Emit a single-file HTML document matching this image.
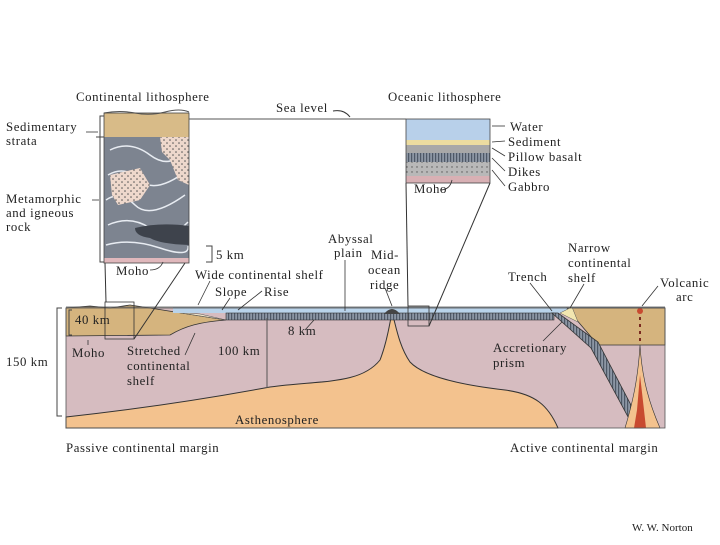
<!DOCTYPE html>
<html><head><meta charset="utf-8"><style>
body{margin:0;background:#fff}
svg text{font-family:"Liberation Serif",serif;font-size:12.8px;fill:#222;letter-spacing:0.6px}
</style></head><body>
<svg width="720" height="540" viewBox="0 0 720 540" xmlns="http://www.w3.org/2000/svg">
<defs>
<pattern id="stripe" width="3" height="8" patternUnits="userSpaceOnUse"><rect width="3" height="8" fill="#8c96a4"/><rect width="1.2" height="8" fill="#4e5866"/></pattern>
<pattern id="dots" width="6" height="6" patternUnits="userSpaceOnUse"><rect width="6" height="6" fill="#eed8cc"/><circle cx="2" cy="2" r="0.8" fill="#555"/><circle cx="5" cy="5" r="0.8" fill="#555"/></pattern>
<pattern id="gdots" width="5" height="5" patternUnits="userSpaceOnUse"><rect width="5" height="5" fill="#b8b8b8"/><circle cx="2" cy="2" r="0.7" fill="#555"/></pattern>
</defs>
<rect x="66" y="308" width="599" height="120" fill="#d6bcc0"/>
<path d="M66 417 C130 410 200 400 270 387 C320 380 360 385 380 360 C388 340 390 320 392 313 C395 320 398 345 410 362 C425 378 470 386 505 390 C535 394 548 405 558 428 L66 428Z" fill="#f3c28e" stroke="#333" stroke-width="1"/>
<path d="M66 308 L90 306 L110 308 L130 305 L150 308 L175 312 L226 320 C200 322 185 326 170 335 L66 336Z" fill="#d5b47e" stroke="#333" stroke-width="0.8"/>
<path d="M175 312 L226 320 L200 314Z" fill="#f2e6cc" stroke="#555" stroke-width="0.5"/>
<rect x="173" y="307" width="492" height="6" fill="#b9d3ea"/>
<line x1="66" y1="307" x2="665" y2="307" stroke="#555" stroke-width="0.8"/>
<rect x="226" y="313" width="328" height="7" fill="url(#stripe)" stroke="#333" stroke-width="0.6"/>
<path d="M384 314 Q392 304 400 314Z" fill="#444"/>
<path d="M567 308 L665 308 L665 345 L598 345 L575 318Z" fill="#d5b47e" stroke="#333" stroke-width="0.8"/>
<path d="M560 313 L572 307 L578 322Z" fill="#f2e6b0" stroke="#555" stroke-width="0.5"/>
<path d="M552 313 L558 313 L598 342 L643 428 L634 428 L591 348 Z" fill="url(#stripe)" stroke="#333" stroke-width="0.8"/>
<path d="M640 345 C642 380 650 405 660 428 L625 428 C632 405 638 380 640 345Z" fill="#f3c28e" stroke="#333" stroke-width="0.6"/>
<path d="M640 375 L644 410 L646 428 L634 428 L637 410Z" fill="#c84a30"/>
<line x1="640" y1="310" x2="640" y2="345" stroke="#7a2a20" stroke-width="2" stroke-dasharray="3 4"/>
<circle cx="640" cy="311" r="3" fill="#c84a30"/>
<rect x="66" y="308" width="599" height="120" fill="none" stroke="#555" stroke-width="0.8"/>
<rect x="105" y="302" width="29" height="37" fill="none" stroke="#333" stroke-width="0.8"/>
<rect x="408" y="306" width="21" height="20" fill="none" stroke="#333" stroke-width="0.8"/>
<line x1="105" y1="263" x2="106" y2="302" stroke="#333"/>
<line x1="185" y1="263" x2="134" y2="339" stroke="#333"/>
<line x1="406" y1="183" x2="408" y2="306" stroke="#333"/>
<line x1="490" y1="183" x2="429" y2="326" stroke="#333"/>
<line x1="267" y1="318" x2="267" y2="388" stroke="#555"/>
<rect x="104" y="113" width="85" height="24" fill="#d8bb88"/>
<rect x="104" y="137" width="85" height="121" fill="#7d8490"/>
<path d="M110 150 Q130 140 150 155 T185 150 M108 175 Q125 165 140 180 T188 170 M106 200 Q120 190 135 205 T185 195 M108 225 Q130 215 150 228 T188 222 M106 245 Q130 238 160 248 T188 246" stroke="#e8ecf2" stroke-width="1.5" fill="none"/>
<path d="M110 175 L140 168 L150 185 L140 200 L118 205 L112 195Z" fill="url(#dots)"/>
<path d="M160 137 L189 137 L189 185 L178 180 L170 160 L162 152Z" fill="url(#dots)"/>
<path d="M135 228 Q160 222 189 226 L189 245 Q160 244 150 238 Q135 236 135 228Z" fill="#3e434c"/>
<rect x="104" y="258" width="85" height="5" fill="#e0b8bc"/>
<path d="M104 113 Q120 110 135 113 T165 112 T189 112" fill="none" stroke="#555"/>
<rect x="104" y="113" width="85" height="150" fill="none" stroke="#444" stroke-width="0.8"/>
<rect x="406" y="119" width="84" height="21" fill="#b8d0ea"/>
<rect x="406" y="140" width="84" height="5" fill="#ecdca0"/>
<rect x="406" y="145" width="84" height="8" fill="#a8a8a8"/>
<rect x="406" y="153" width="84" height="9" fill="url(#stripe)"/>
<rect x="406" y="162" width="84" height="14" fill="url(#gdots)"/>
<rect x="406" y="176" width="84" height="7" fill="#d8b0b4"/>
<rect x="406" y="119" width="84" height="64" fill="none" stroke="#444" stroke-width="0.8"/>
<line x1="189" y1="119" x2="406" y2="119" stroke="#555"/>
<path d="M333 111 Q344 109 350 117" fill="none" stroke="#333"/>
<path d="M104 116 L100 116 L100 262 L104 262 M96 137 L104 137" fill="none" stroke="#444"/>
<path d="M206 246 L212 246 L212 262 L206 262" fill="none" stroke="#444"/>
<path d="M62 308 L57 308 L57 416 L62 416" fill="none" stroke="#444"/>
<path d="M72 310 L69 310 L69 335 L72 335" fill="none" stroke="#444"/>
<g stroke="#333" fill="none" stroke-width="0.8">
<line x1="86" y1="132" x2="98" y2="132"/>
<line x1="92" y1="200" x2="99" y2="200"/>
<path d="M150 270 Q160 270 163 262"/>
<line x1="210" y1="281" x2="198" y2="305"/>
<line x1="230" y1="298" x2="222" y2="310"/>
<line x1="262" y1="291" x2="238" y2="310"/>
<line x1="345" y1="260" x2="345" y2="311"/>
<line x1="385" y1="288" x2="392" y2="306"/>
<path d="M440 190 Q450 190 452 180"/>
<line x1="492" y1="126" x2="505" y2="126"/>
<line x1="492" y1="142" x2="505" y2="141"/>
<line x1="492" y1="148" x2="505" y2="156"/>
<line x1="492" y1="158" x2="505" y2="171"/>
<line x1="492" y1="170" x2="505" y2="186"/>
<line x1="530" y1="283" x2="552" y2="311"/>
<line x1="584" y1="284" x2="570" y2="308"/>
<line x1="658" y1="286" x2="642" y2="306"/>
<line x1="305" y1="330" x2="314" y2="320"/>
<line x1="562" y1="322" x2="543" y2="341"/>
<line x1="88" y1="340" x2="88" y2="345"/>
<line x1="185" y1="355" x2="195" y2="333"/>
</g>
<text x="76" y="101">Continental lithosphere</text>
<text x="388" y="101">Oceanic lithosphere</text>
<text x="276" y="112">Sea level</text>
<text x="6" y="131">Sedimentary</text><text x="6" y="145">strata</text>
<text x="6" y="203">Metamorphic</text><text x="6" y="217">and igneous</text><text x="6" y="231">rock</text>
<text x="216" y="259">5 km</text>
<text x="116" y="275">Moho</text>
<text x="195" y="279">Wide continental shelf</text>
<text x="215" y="296">Slope</text><text x="264" y="296">Rise</text>
<text x="328" y="243">Abyssal</text><text x="334" y="257">plain</text>
<text x="371" y="259">Mid-</text><text x="368" y="274">ocean</text><text x="370" y="289">ridge</text>
<text x="510" y="131">Water</text><text x="508" y="146">Sediment</text><text x="508" y="161">Pillow basalt</text><text x="508" y="176">Dikes</text><text x="508" y="191">Gabbro</text>
<text x="414" y="193">Moho</text>
<text x="568" y="252">Narrow</text><text x="568" y="267">continental</text><text x="568" y="282">shelf</text>
<text x="508" y="281">Trench</text>
<text x="660" y="287">Volcanic</text><text x="676" y="301">arc</text>
<text x="75" y="324">40 km</text>
<text x="72" y="357">Moho</text>
<text x="127" y="355">Stretched</text><text x="127" y="370">continental</text><text x="127" y="385">shelf</text>
<text x="218" y="355">100 km</text>
<text x="288" y="335">8 km</text>
<text x="493" y="352">Accretionary</text><text x="493" y="367">prism</text>
<text x="6" y="366">150 km</text>
<text x="235" y="424">Asthenosphere</text>
<text x="66" y="452">Passive continental margin</text>
<text x="510" y="452">Active continental margin</text>
<text x="632" y="531" style="font-size:11px;letter-spacing:0">W. W. Norton</text>
</svg>
</body></html>
